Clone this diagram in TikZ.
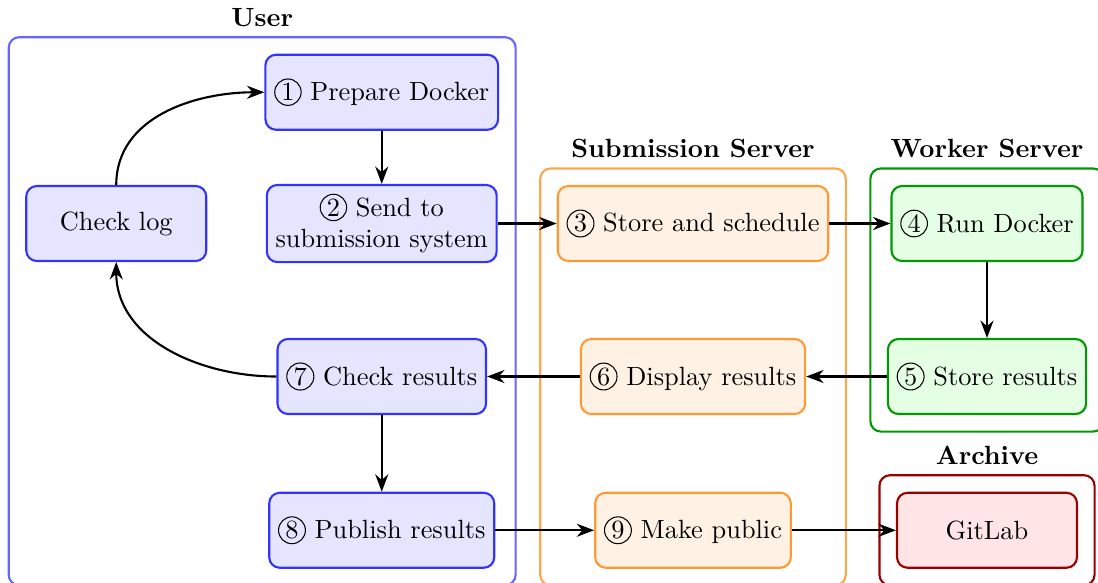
\documentclass[tikz,border=0pt]{standalone}
\usepackage{tikz}
\usetikzlibrary{positioning,fit,arrows.meta}
\tikzset{
	usernode/.style={rectangle, rounded corners=4pt, draw=blue!80, fill=blue!10, thick, minimum width=2.4cm, minimum height=1cm, align=center},
	subnode/.style={rectangle, rounded corners=4pt, draw=orange!80, fill=orange!10, thick, minimum width=2.4cm, minimum height=1cm, align=center},
	worknode/.style={rectangle, rounded corners=4pt, draw=green!60!black, fill=green!10, thick, minimum width=2.4cm, minimum height=1cm, align=center},
	archnode/.style={rectangle, rounded corners=4pt, draw=red!60!black, fill=red!10, thick, minimum width=2.4cm, minimum height=1cm, align=center},
	groupbox/.style={rectangle, rounded corners=4pt, thick, inner sep=0.22cm}
}
\newcommand{\circnum}[1]{\tikz[baseline=(num.base)] \node[circle, draw=black, fill=none, thin, inner sep=0.6pt, minimum width=0pt, minimum height=0pt, sharp corners] (num) {#1};}

\begin{document}
\begin{tikzpicture}
		\useasboundingbox (0,0) rectangle (14.64,-7.773);

		\node[usernode] at (5.09,-1.23) (prep)    {\circnum{1} Prepare Docker};
		\node[usernode] at (5.09,-2.98) (send)    {\circnum{2} Send to\\submission system};
		\node[usernode] at (1.55,-2.98) (log)     {Check log};
		\node[usernode] at (5.09,-5.02) (check)   {\circnum{7} Check results};
		\node[usernode] at (5.09,-7.07) (publish) {\circnum{8} Publish results};

		\node[subnode] at (9.24,-2.98) (store)   {\circnum{3} Store and schedule};
		\node[subnode] at (9.24,-5.02) (display) {\circnum{6} Display results};
		\node[subnode] at (9.24,-7.07) (public)  {\circnum{9} Make public};

		\node[worknode] at (13.16,-2.98) (run)    {\circnum{4} Run Docker};
		\node[worknode] at (13.16,-5.02) (result) {\circnum{5} Store results};

		\node[archnode] at (13.16,-7.07) (gitlab) {GitLab};

		\node[groupbox, draw=blue!60, fit=(prep)(log)(publish)(send), label={[font=\bfseries]above:User}] (user) {};
		\node[groupbox, draw=orange!70, fit=(store)(public), label={[font=\bfseries]above:Submission Server}] (subserver) {};
		\node[groupbox, draw=green!60!black, fit=(run)(result), label={[font=\bfseries]above:Worker Server}] (worker) {};
		\node[groupbox, draw=red!60!black, fit=(gitlab), label={[font=\bfseries]above:Archive}] (archive) {};

        \draw[-Stealth, thick] (prep.south) -- (send.north);
        \draw[-Stealth, thick] (send.east) -- (store.west);
        \draw[-Stealth, thick] (store.east) -- (run.west);
        \draw[-Stealth, thick] (run.south) -- (result.north);
        \draw[-Stealth, thick] (result.west) -- (display.east);
        \draw[-Stealth, thick] (display.west) -- (check.east);
        \draw[-Stealth, thick] (check.west) to[out=180, in=-90] (log.south);
        \draw[-Stealth, thick] (log.north) to[out=90, in=180] (prep.west);
        \draw[-Stealth, thick] (check.south) -- (publish.north);
        \draw[-Stealth, thick] (publish.east) -- (public.west);
        \draw[-Stealth, thick] (public.east) -- (gitlab.west);
	\end{tikzpicture}
\end{document}
